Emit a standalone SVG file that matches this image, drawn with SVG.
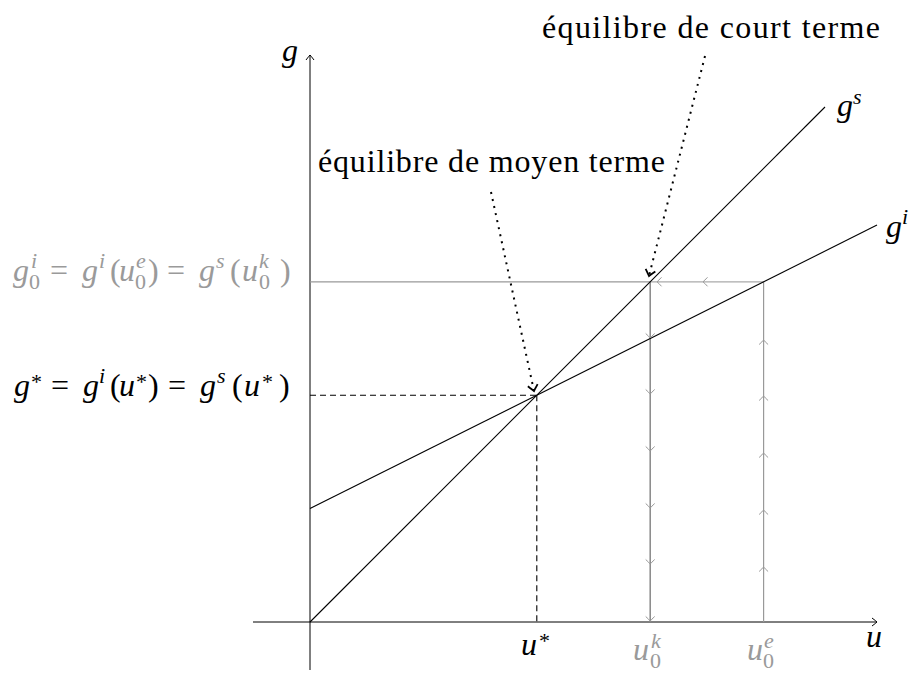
<svg xmlns="http://www.w3.org/2000/svg" width="912" height="673" viewBox="0 0 912 673">
<defs>
<marker id="axh" viewBox="-8 -6 10 12" refX="0" refY="0" markerWidth="10" markerHeight="12" orient="auto" markerUnits="userSpaceOnUse">
<path d="M-5,-4 Q-1,-1 0,0 Q-1,1 -5,4" fill="none" stroke="#000" stroke-width="1"/>
</marker>
<marker id="doth" viewBox="-9 -7 11 14" refX="0" refY="0" markerWidth="11" markerHeight="14" orient="auto" markerUnits="userSpaceOnUse">
<path d="M-6,-5 Q-1.5,-1.2 0,0 Q-1.5,1.2 -6,5" fill="none" stroke="#000" stroke-width="1.8"/>
</marker>
<path id="cv" d="M-4.5,-4.5 Q-1.2,-1.5 0,0 Q1.2,-1.5 4.5,-4.5" fill="none" stroke="#999" stroke-width="1"/>
</defs>

<g id="connectors" fill="none">
<path d="M253,622 H877" stroke="#000" stroke-width="1" marker-end="url(#axh)"/>
<path d="M310,670 V55" stroke="#000" stroke-width="1" marker-end="url(#axh)"/>
<path d="M310,281.8 H650.2" stroke="#999" stroke-width="1.3"/>
<path d="M650.2,281.8 H763.6" stroke="#aaa" stroke-width="1.3"/>
<path d="M650.2,281.8 V622" stroke="#888" stroke-width="1.5"/>
<path d="M763.6,622 V281.8" stroke="#999" stroke-width="1.2"/>
<path d="M310,395.2 H536.8" stroke="#000" stroke-width="1.1" stroke-dasharray="6 4"/>
<path d="M536.8,395.2 V622" stroke="#000" stroke-width="1.1" stroke-dasharray="6 4"/>
<path d="M310,622 L825,107" stroke="#000" stroke-width="1.1"/>
<path d="M310,508.6 L877,225.1" stroke="#000" stroke-width="1.1"/>
<path d="M705,56 L649,276" stroke="#000" stroke-width="2" stroke-dasharray="2 5.2" marker-end="url(#doth)"/>
<path d="M491,192 L534,391" stroke="#000" stroke-width="2" stroke-dasharray="2 5.2" marker-end="url(#doth)"/>
<use href="#cv" transform="translate(650.2,338)"/>
<use href="#cv" transform="translate(650.2,394)"/>
<use href="#cv" transform="translate(650.2,451)"/>
<use href="#cv" transform="translate(650.2,508)"/>
<use href="#cv" transform="translate(650.2,564)"/>
<use href="#cv" transform="translate(650.2,621)"/>
<use href="#cv" transform="translate(763.6,340) rotate(180)"/>
<use href="#cv" transform="translate(763.6,396) rotate(180)"/>
<use href="#cv" transform="translate(763.6,453) rotate(180)"/>
<use href="#cv" transform="translate(763.6,510) rotate(180)"/>
<use href="#cv" transform="translate(763.6,567) rotate(180)"/>
<use href="#cv" transform="translate(703,281.8) rotate(90)"/>
<use href="#cv" transform="translate(657,281.8) rotate(90)"/>
</g>

<g id="label-court">
<text font-family="Liberation Serif" font-size="32" fill="#000" x="542" y="38" textLength="338" lengthAdjust="spacing">équilibre de court terme</text>
</g>
<g id="label-moyen">
<text font-family="Liberation Serif" font-size="32" fill="#000" x="318" y="172" textLength="347" lengthAdjust="spacing">équilibre de moyen terme</text>
</g>

<g id="axis-g"><text font-family="Liberation Serif" font-size="32" font-style="italic" fill="#000" x="282" y="61">g</text></g>
<g id="axis-u"><text font-family="Liberation Serif" font-size="32" font-style="italic" fill="#000" x="866" y="647">u</text></g>

<g id="label-gs"><text font-family="Liberation Serif" font-size="32" font-style="italic" fill="#000"><tspan x="837" y="116">g</tspan><tspan font-size="22" x="853" y="104">s</tspan></text></g>
<g id="label-gi"><text font-family="Liberation Serif" font-size="32" font-style="italic" fill="#000"><tspan x="886" y="237">g</tspan><tspan font-size="22" x="902" y="224">i</tspan></text></g>

<g id="label-ustar"><text font-family="Liberation Serif" font-size="32" font-style="italic" fill="#000"><tspan x="521" y="655">u</tspan><tspan font-size="22" font-style="normal" x="539" y="648">*</tspan></text></g>
<g id="label-u0k"><text font-family="Liberation Serif" font-size="32" font-style="italic" fill="#9a9a9a"><tspan x="633" y="660">u</tspan><tspan font-size="22" x="651" y="648">k</tspan><tspan font-size="22" font-style="normal" x="650" y="668">0</tspan></text></g>
<g id="label-u0e"><text font-family="Liberation Serif" font-size="32" font-style="italic" fill="#9a9a9a"><tspan x="747" y="660">u</tspan><tspan font-size="22" x="764" y="648">e</tspan><tspan font-size="22" font-style="normal" x="763" y="668">0</tspan></text></g>

<g id="label-g0">
<text font-family="Liberation Serif" font-size="32" font-style="italic" fill="#9a9a9a"><tspan x="13" y="281">g</tspan><tspan font-size="22" x="31" y="268">i</tspan><tspan font-size="22" font-style="normal" x="29" y="289">0</tspan><tspan font-style="normal" x="50" y="281">=</tspan><tspan x="82" y="281">g</tspan><tspan font-size="22" x="99" y="268">i</tspan><tspan font-style="normal" x="110" y="281">(</tspan><tspan x="119" y="281">u</tspan><tspan font-size="22" x="136" y="268">e</tspan><tspan font-size="22" font-style="normal" x="135" y="289">0</tspan><tspan font-style="normal" x="148" y="281">)</tspan><tspan font-style="normal" x="167" y="281">=</tspan><tspan x="199" y="281">g</tspan><tspan font-size="22" x="216" y="268">s</tspan><tspan font-style="normal" x="230" y="281">(</tspan><tspan x="242" y="281">u</tspan><tspan font-size="22" x="259" y="268">k</tspan><tspan font-size="22" font-style="normal" x="259" y="289">0</tspan><tspan font-style="normal" x="280" y="281">)</tspan></text>
</g>

<g id="label-gstar">
<text font-family="Liberation Serif" font-size="32" font-style="italic" fill="#000"><tspan x="14" y="396">g</tspan><tspan font-size="22" font-style="normal" x="31" y="389">*</tspan><tspan font-style="normal" x="51" y="396">=</tspan><tspan x="83" y="396">g</tspan><tspan font-size="22" x="99" y="383">i</tspan><tspan font-style="normal" x="110" y="396">(</tspan><tspan x="119" y="396">u</tspan><tspan font-size="22" font-style="normal" x="136" y="389">*</tspan><tspan font-style="normal" x="148" y="396">)</tspan><tspan font-style="normal" x="168" y="396">=</tspan><tspan x="200" y="396">g</tspan><tspan font-size="22" x="217" y="383">s</tspan><tspan font-style="normal" x="232" y="396">(</tspan><tspan x="244" y="396">u</tspan><tspan font-size="22" font-style="normal" x="262" y="389">*</tspan><tspan font-style="normal" x="279" y="396">)</tspan></text>
</g>
</svg>
